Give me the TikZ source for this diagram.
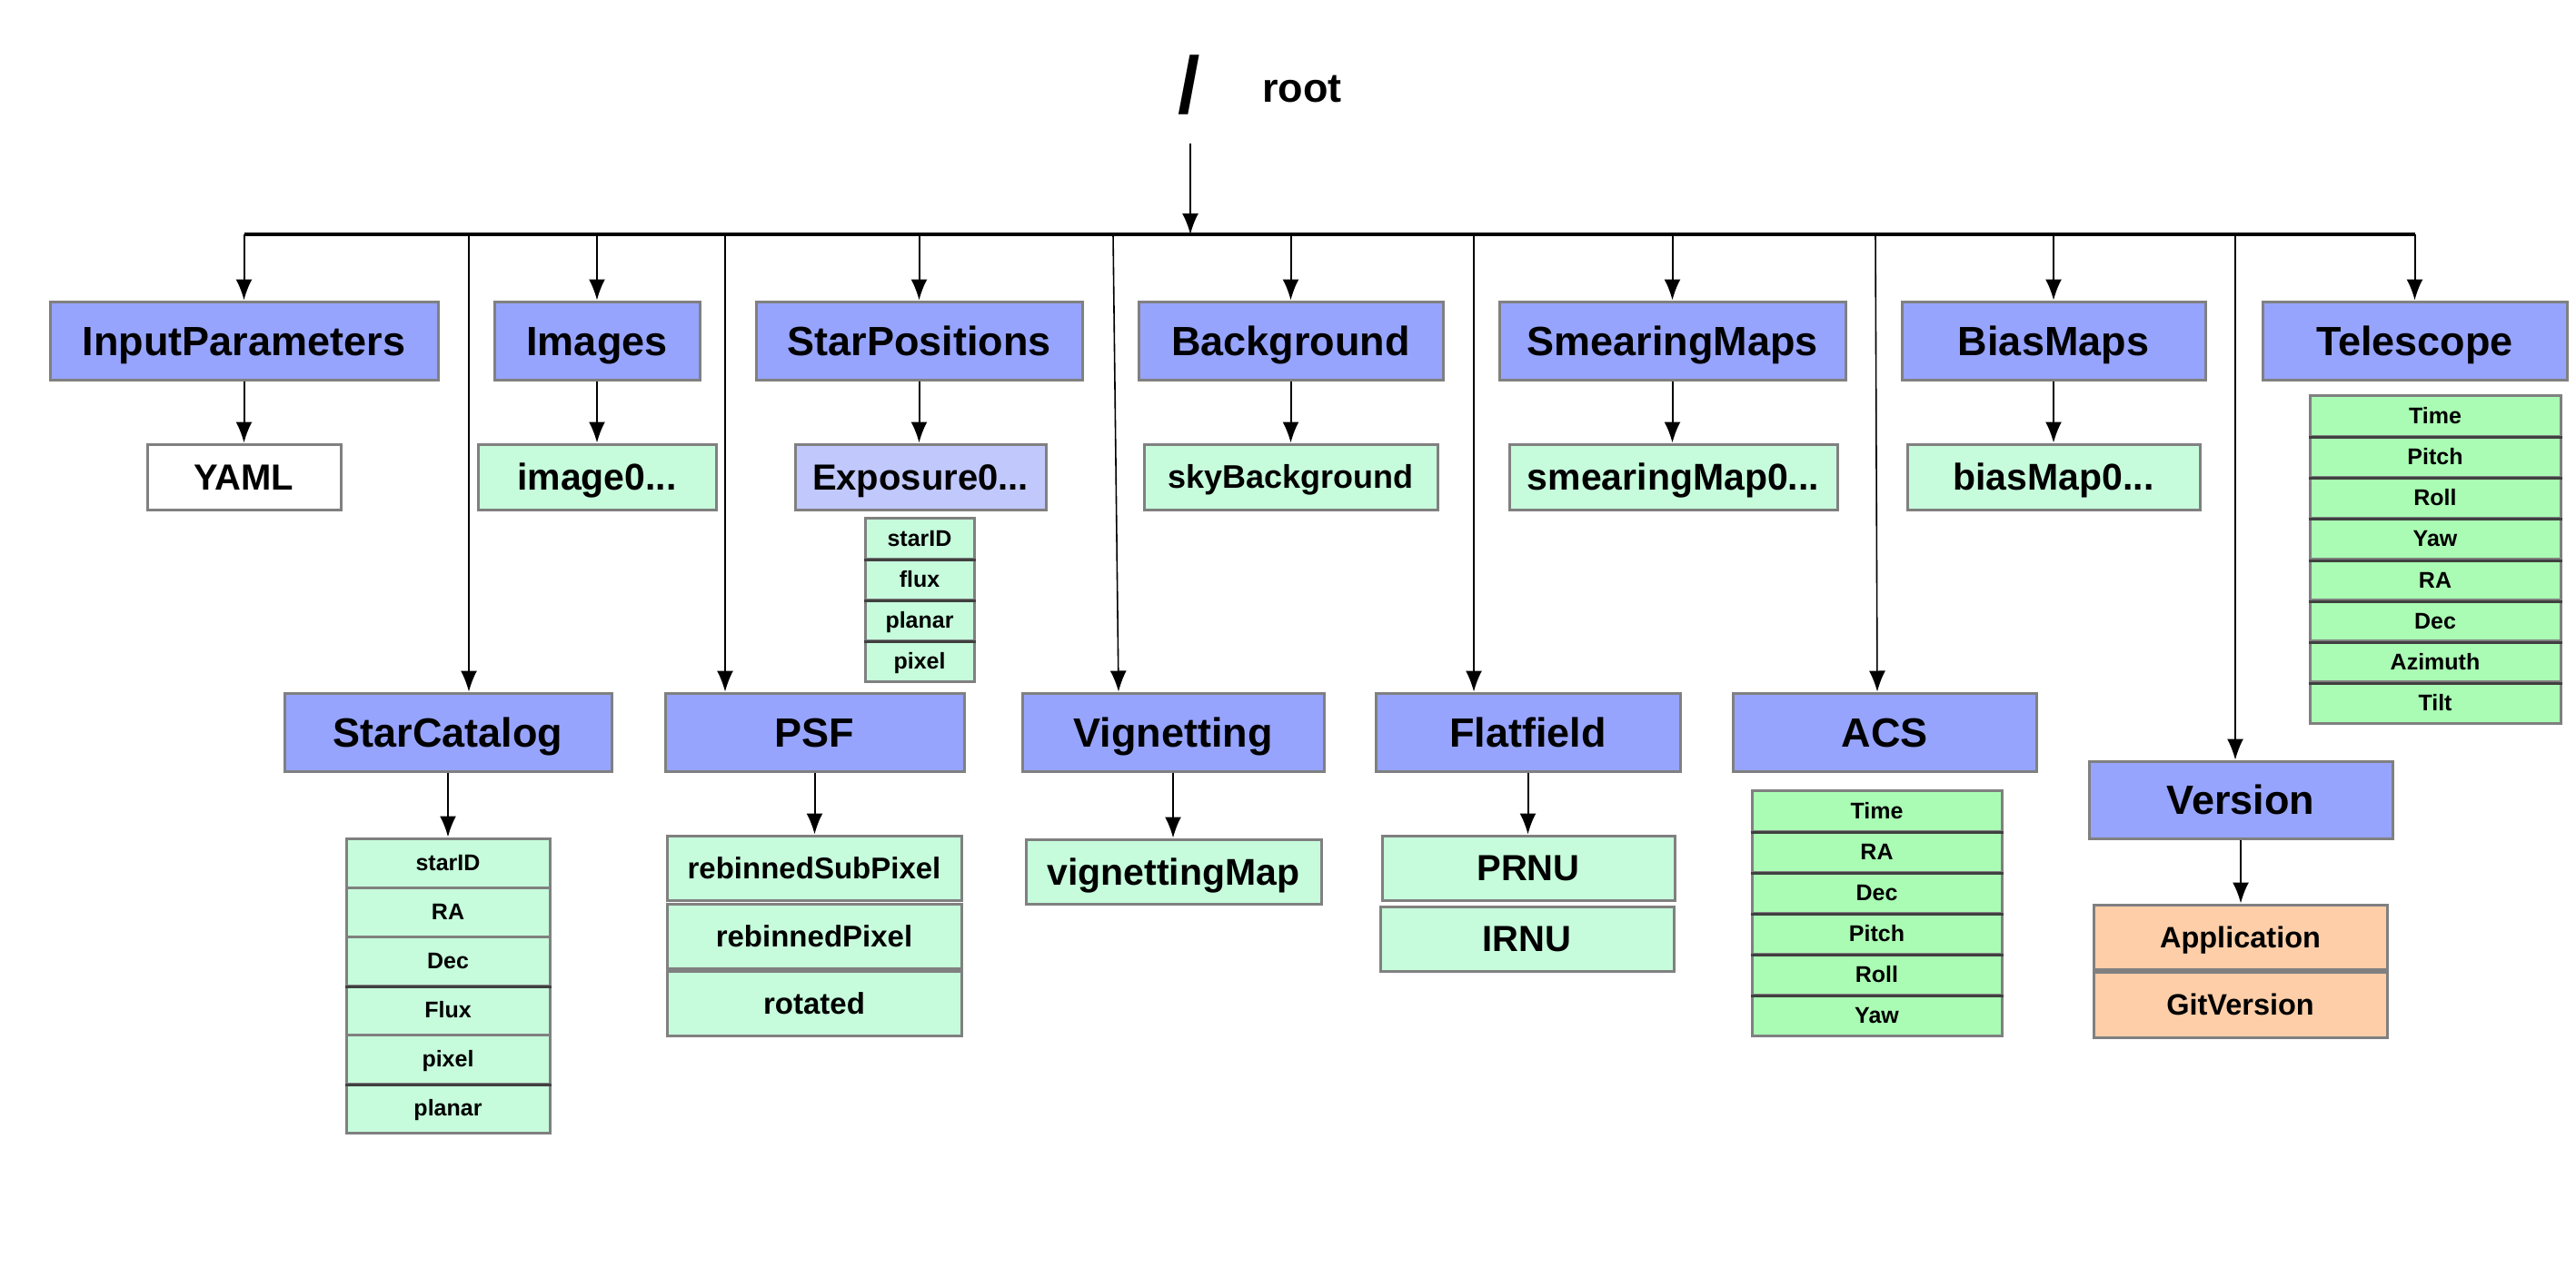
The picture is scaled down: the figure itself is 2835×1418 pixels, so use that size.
\documentclass[tikz,border=0pt]{standalone}
\usepackage{fontspec}
\setmainfont{Liberation Sans}
\usetikzlibrary{arrows.meta}
\definecolor{blueA}{RGB}{150,164,253}
\definecolor{blueB}{RGB}{192,200,252}
\definecolor{greenA}{RGB}{198,252,220}
\definecolor{greenB}{RGB}{170,252,180}
\definecolor{orangeA}{RGB}{253,206,168}
\definecolor{bord}{RGB}{128,128,128}
\definecolor{sepc}{RGB}{64,64,64}
\begin{document}
\begin{tikzpicture}[x=1pt,y=-1pt,
  fs/.style={font=\bfseries\fontsize{#1}{#1}\selectfont, text height={#1*0.716pt}, text depth=0pt},
  box/.style={draw=bord, line width=3pt, rectangle, inner sep=0pt, text=black},
  lvlone/.style={box, fill=blueA, fs=45, minimum height=86pt},
  leaf/.style={box, fill=greenA, minimum height=72pt},
  field/.style={box, fill=greenA, fs=25},
  fieldB/.style={box, fill=greenB, fs=25},
  arr/.style={line width=2pt, -{Latex[length=23pt,width=18pt]}},
  thinarr/.style={line width=1.6pt, -{Latex[length=23pt,width=18pt]}},
  sepl/.style={draw=sepc, line width=3pt},
  busl/.style={line width=3.5pt}]
\useasboundingbox (0,0) rectangle (2835,1418);

% root
\node[anchor=base, font=\bfseries\fontsize{88}{88}\selectfont, inner sep=0pt] (slash) at (1309,125) {/};
\node[anchor=base west, fs=45, inner sep=0pt] (root) at (1389,113) {root};
\coordinate (rtop) at (1310,158);
\coordinate (busL) at (269,258);
\coordinate (busR) at (2658,258);
\draw[busl] (busL) -- (busR);
\draw[arr] (rtop) -- (rtop |- busL);

% level 1
\node[lvlone, minimum width=427pt] (ip) at (268.5,375) {InputParameters};
\node[lvlone, minimum width=226pt] (img) at (657,375) {Images};
\node[lvlone, minimum width=359pt] (sp) at (1011.5,375) {StarPositions};
\node[lvlone, minimum width=335pt] (bg) at (1420.5,375) {Background};
\node[lvlone, minimum width=381pt] (sm) at (1840.5,375) {SmearingMaps};
\node[lvlone, minimum width=334pt] (bm) at (2260,375) {BiasMaps};
\node[lvlone, minimum width=335pt] (tel) at (2657.5,375) {Telescope};
\foreach \n in {ip,img,sp,bg,sm,bm,tel} \draw[arr] (\n.north |- busL) -- (\n.north);

% level 2
\node[box, fill=white, fs=40, minimum width=213pt, minimum height=72pt] (yaml) at (268.5,525) {YAML};
\node[leaf, fs=41, minimum width=262pt] (im0) at (657,525) {image0...};
\node[box, fill=blueB, fs=40, minimum width=276pt, minimum height=72pt] (exp) at (1013,525) {Exposure0...};
\node[leaf, fs=36, minimum width=323pt] (sky) at (1420.5,525) {skyBackground};
\node[leaf, fs=41, minimum width=361pt] (smm) at (1841.5,525) {smearingMap0...};
\node[leaf, fs=41, minimum width=322pt] (bias) at (2260,525) {biasMap0...};
\draw[arr] (ip.south) -- (ip.south |- yaml.north);
\draw[arr] (img.south) -- (img.south |- im0.north);
\draw[arr] (sp.south) -- (sp.south |- exp.north);
\draw[arr] (bg.south) -- (bg.south |- sky.north);
\draw[arr] (sm.south) -- (sm.south |- smm.north);
\draw[arr] (bm.south) -- (bm.south |- bias.north);

% Exposure fields
\foreach \t [count=\i] in {starID,flux,planar,pixel}
  \node[field, minimum width=120pt, minimum height=45pt] (ef\i) at (1012,{547.5+45*\i}) {\t};
\foreach \i in {1,2,3} \draw[sepl] (ef\i.south west) -- (ef\i.south east);

% Telescope fields
\foreach \t [count=\i] in {Time,Pitch,Roll,Yaw,RA,Dec,Azimuth,Tilt}
  \node[fieldB, minimum width=276pt, minimum height=45.125pt] (tf\i) at (2680,{412.44+45.125*\i}) {\t};
\foreach \i in {1,...,7} \draw[sepl] (tf\i.south west) -- (tf\i.south east);

% level 3
\node[lvlone, minimum width=360pt] (sc) at (493,806) {StarCatalog};
\node[lvlone, minimum width=329pt] (psf) at (896.5,806) {PSF};
\node[lvlone, minimum width=332pt] (vig) at (1291,806) {Vignetting};
\node[lvlone, minimum width=335pt] (ff) at (1681.5,806) {Flatfield};
\node[lvlone, minimum width=334pt] (acs) at (2074,806) {ACS};
\node[lvlone, minimum width=334pt, minimum height=85pt] (ver) at (2466,880.5) {Version};

\coordinate (tSC) at (516,258);
\coordinate (tPSF) at (798,258);
\coordinate (tVIG) at (1225,258);
\coordinate (tFF) at (1622,258);
\coordinate (tACS) at (2064,258);
\coordinate (tVER) at (2460,258);
\draw[thinarr] (tSC) -- (tSC |- sc.north);
\draw[thinarr] (tPSF) -- (tPSF |- psf.north);
\draw[thinarr] (tVIG) -- ([xshift=-60pt]vig.north);
\draw[thinarr] (tFF) -- (tFF |- ff.north);
\draw[thinarr] (tACS) -- ([xshift=-8pt]acs.north);
\draw[thinarr] (tVER) -- (tVER |- ver.north);

% StarCatalog fields
\foreach \t [count=\i] in {starID,RA,Dec,Flux,pixel,planar}
  \node[field, minimum width=224pt, minimum height=54pt] (scf\i) at (493,{896+54*\i}) {\t};
\foreach \i in {3,5} \draw[sepl] (scf\i.south west) -- (scf\i.south east);
\draw[arr] (sc.south) -- (sc.south |- scf1.north);

% PSF children
\node[leaf, fs=33, minimum width=324pt, minimum height=71pt] (rsp) at (896,955.5) {rebinnedSubPixel};
\node[leaf, fs=33, minimum width=324pt, minimum height=71pt] (rp) at (896,1030.5) {rebinnedPixel};
\node[leaf, fs=33, minimum width=324pt, minimum height=71pt] (rot) at (896,1104.5) {rotated};
\draw[arr] (psf.south) -- (psf.south |- rsp.north);

% Vignetting child
\node[leaf, fs=41, minimum width=325pt, minimum height=71pt] (vm) at (1291.5,959.5) {vignettingMap};
\draw[arr] (vig.south) -- (vig.south |- vm.north);

% Flatfield children
\node[leaf, fs=40, minimum width=322pt, minimum height=71pt] (prnu) at (1682,955.5) {PRNU};
\node[leaf, fs=40, minimum width=323pt, minimum height=71pt] (irnu) at (1680.5,1033.5) {IRNU};
\draw[arr] (ff.south) -- (ff.south |- prnu.north);

% ACS fields
\foreach \t [count=\i] in {Time,RA,Dec,Pitch,Roll,Yaw}
  \node[fieldB, minimum width=275pt, minimum height=45pt] (af\i) at (2065.5,{847.5+45*\i}) {\t};
\foreach \i in {1,...,5} \draw[sepl] (af\i.south west) -- (af\i.south east);

% Version children
\node[box, fill=orangeA, fs=32.5, minimum width=323pt, minimum height=71pt] (app) at (2465.5,1031.5) {Application};
\node[box, fill=orangeA, fs=32.5, minimum width=323pt, minimum height=72pt] (git) at (2465.5,1106) {GitVersion};
\draw[arr] (ver.south) -- (ver.south |- app.north);
\end{tikzpicture}
\end{document}
